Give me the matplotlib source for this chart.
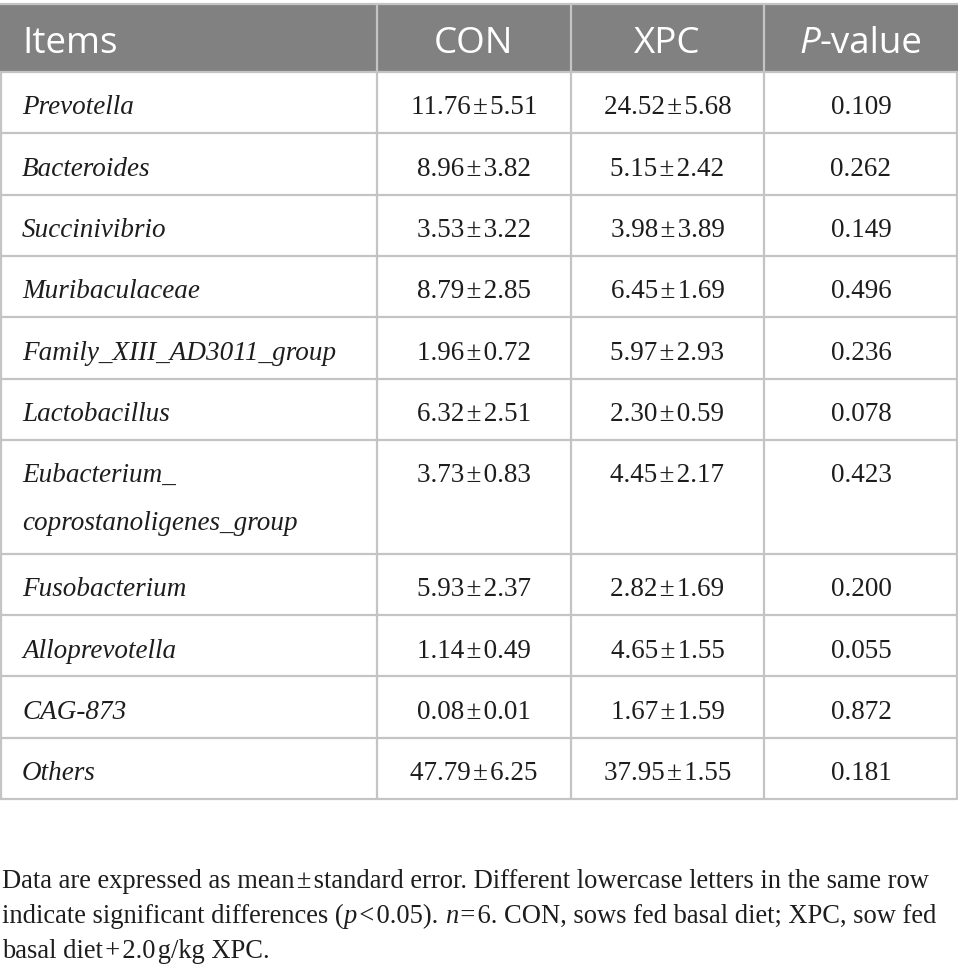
import matplotlib
matplotlib.use("Agg")
import matplotlib.pyplot as plt

items = ["Prevotella", "Bacteroides", "Succinivibrio", "Muribaculaceae",
         "Family_XIII_AD3011_group", "Lactobacillus",
         "Eubacterium_\ncoprostanoligenes_group", "Fusobacterium",
         "Alloprevotella", "CAG-873", "Others"]
con_mean = ["11.76", "8.96", "3.53", "8.79", "1.96", "6.32", "3.73", "5.93", "1.14", "0.08", "47.79"]
con_se = ["5.51", "3.82", "3.22", "2.85", "0.72", "2.51", "0.83", "2.37", "0.49", "0.01", "6.25"]
xpc_mean = ["24.52", "5.15", "3.98", "6.45", "5.97", "2.30", "4.45", "2.82", "4.65", "1.67", "37.95"]
xpc_se = ["5.68", "2.42", "3.89", "1.69", "2.93", "0.59", "2.17", "1.69", "1.55", "1.59", "1.55"]
p_values = ["0.109", "0.262", "0.149", "0.496", "0.236", "0.078", "0.423", "0.200", "0.055", "0.872", "0.181"]
headers = ["Items", "CON", "XPC", "P-value"]

W, H = 958, 977
fig = plt.figure(figsize=(W / 100, H / 100), dpi=100)
ax = fig.add_axes([0, 0, 1, 1])
ax.set_xlim(0, W)
ax.set_ylim(H, 0)
ax.axis("off")

SERIF = "Liberation Serif"
SANS = "Open Sans"
GRID = "#c4c4c4"
HEAD_BG = "#808180"
HS = "\u200a"

col_x = [0, 377, 571, 764, 958]
head_top, head_bot = 4, 72
row_h = 61.3
two_h = 114

bounds = [head_bot]
for name in items:
    bounds.append(bounds[-1] + (two_h if "\n" in name else row_h))

ax.add_patch(plt.Rectangle((0, head_top), W, head_bot - head_top,
                           facecolor=HEAD_BG, edgecolor="none", zorder=1))
ax.hlines([head_top], 0, W, color=GRID, lw=1.6, zorder=2)
ax.hlines(bounds, 0, W, color=GRID, lw=1.6, zorder=2)
ax.vlines([col_x[0] + 0.8, col_x[-1] - 0.8], bounds[0], bounds[-1], color=GRID, lw=1.6, zorder=2)
ax.vlines(col_x[1:4], head_top, bounds[-1], color=GRID, lw=1.6, zorder=2)

renderer = fig.canvas.get_renderer()


def runs(x, y, parts, ha="left", size=16, color="#231f20"):
    """parts: list of (text, family, style)"""
    objs = []
    for txt, fam, sty in parts:
        t = ax.text(0, y, txt, family=fam, style=sty, fontsize=size, color=color,
                    ha="left", va="baseline", zorder=3)
        objs.append(t)
    widths = [o.get_window_extent(renderer).width for o in objs]
    total = sum(widths)
    start = x - total / 2 if ha == "center" else x
    for o, w in zip(objs, widths):
        o.set_x(start)
        start += w


hb = head_top + 49
ax.text(22, hb, headers[0], family=SANS, fontsize=26.5, color="white", va="baseline", ha="left", zorder=3)
for j in (1, 2):
    ax.text((col_x[j] + col_x[j + 1]) / 2, hb, headers[j], family=SANS, fontsize=26.5,
            color="white", va="baseline", ha="center", zorder=3)
runs((col_x[3] + col_x[4]) / 2, hb, [("P", SANS, "italic"), ("-value", SANS, "normal")],
     ha="center", size=26.5, color="white")

TXT = "#1e1c1d"
BODY = 19.5
for i, name in enumerate(items):
    top = bounds[i]
    base = top + 42.5
    lines = name.split("\n")
    for k, ln in enumerate(lines):
        ax.text(22, base + 48 * k, ln, family=SERIF, style="italic", fontsize=BODY,
                color=TXT, va="baseline", ha="left", zorder=3)
    ax.text((col_x[1] + col_x[2]) / 2, base, f"{con_mean[i]}{HS}±{HS}{con_se[i]}",
            family=SERIF, fontsize=BODY, color=TXT, va="baseline", ha="center", zorder=3)
    ax.text((col_x[2] + col_x[3]) / 2, base, f"{xpc_mean[i]}{HS}±{HS}{xpc_se[i]}",
            family=SERIF, fontsize=BODY, color=TXT, va="baseline", ha="center", zorder=3)
    ax.text((col_x[3] + col_x[4]) / 2, base, p_values[i],
            family=SERIF, fontsize=BODY, color=TXT, va="baseline", ha="center", zorder=3)

CAP = 19.1
runs(2, 888, [(f"Data are expressed as mean{HS}±{HS}standard error. Different lowercase letters in the same row", SERIF, "normal")], size=CAP, color=TXT)
runs(2, 923, [("indicate significant differences (", SERIF, "normal"), ("p", SERIF, "italic"),
              (f"{HS}<{HS}0.05). ", SERIF, "normal"), ("n", SERIF, "italic"),
              (f"{HS}={HS}6. CON, sows fed basal diet; XPC, sow fed", SERIF, "normal")], size=CAP, color=TXT)
runs(2, 958, [(f"basal diet{HS}+{HS}2.0{HS}g/kg XPC.", SERIF, "normal")], size=CAP, color=TXT)

fig.savefig("out.png", dpi=100, facecolor="white")
